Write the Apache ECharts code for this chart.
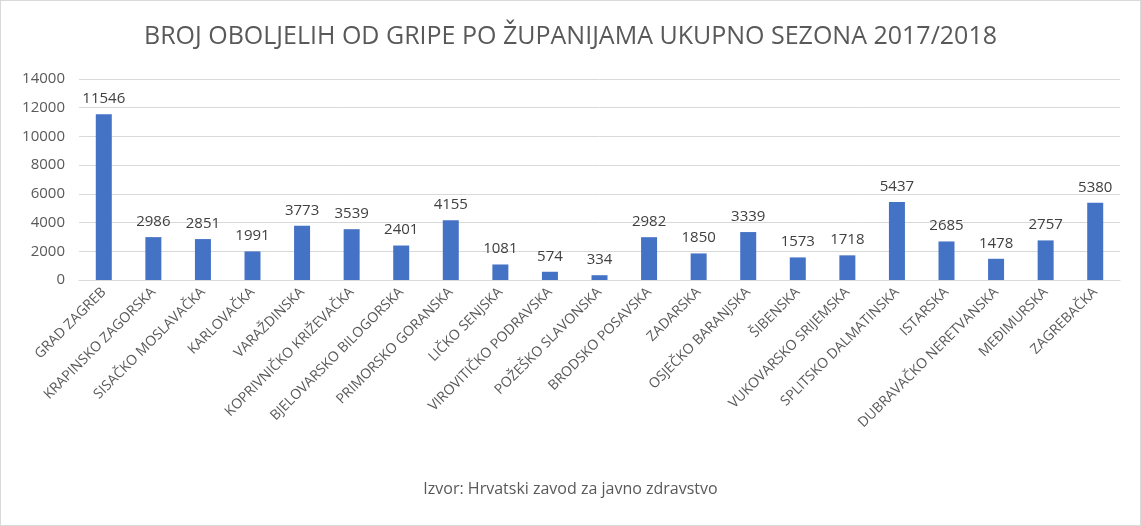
<!DOCTYPE html>
<html>
<head>
<meta charset="utf-8">
<script src="https://cdn.jsdelivr.net/npm/echarts@6/dist/echarts.min.js"></script>
<style>
html,body{margin:0;padding:0;background:#fff;}
#chart{width:1139px;height:524px;border:1px solid #d9d9d9;}
</style>
</head>
<body>
<div id="chart"></div>
<script>
var zupanije = ['GRAD ZAGREB','KRAPINSKO ZAGORSKA','SISAČKO MOSLAVAČKA','KARLOVAČKA','VARAŽDINSKA',
  'KOPRIVNIČKO KRIŽEVAČKA','BJELOVARSKO BILOGORSKA','PRIMORSKO GORANSKA','LIČKO SENJSKA',
  'VIROVITIČKO PODRAVSKA','POŽEŠKO SLAVONSKA','BRODSKO POSAVSKA','ZADARSKA','OSJEČKO BARANJSKA',
  'ŠIBENSKA','VUKOVARSKO SRIJEMSKA','SPLITSKO DALMATINSKA','ISTARSKA','DUBRAVAČKO NERETVANSKA',
  'MEĐIMURSKA','ZAGREBAČKA'];
var oboljeli = [11546,2986,2851,1991,3773,3539,2401,4155,1081,574,334,2982,1850,3339,1573,1718,5437,2685,1478,2757,5380];

var chart = echarts.init(document.getElementById('chart'));
chart.setOption({
  animation: false,
  textStyle: {fontFamily: 'Open Sans'},
  title: {
    text: 'BROJ OBOLJELIH OD GRIPE PO ŽUPANIJAMA UKUPNO SEZONA 2017/2018',
    left: 'center', top: 18,
    textStyle: {fontSize: 25, fontWeight: 'normal', color: '#595959'}
  },
  graphic: [{
    type: 'text', left: 'center', top: 480,
    style: {text: 'Izvor: Hrvatski zavod za javno zdravstvo', fontSize: 16, fill: '#595959', fontFamily: 'Open Sans'}
  }],
  grid: {left: 78, right: 20, top: 78, bottom: 245},
  xAxis: {
    type: 'category', data: zupanije,
    axisTick: {show: false},
    axisLine: {lineStyle: {color: '#d9d9d9'}},
    axisLabel: {rotate: 45, interval: 0, fontSize: 14, color: '#595959', margin: 10}
  },
  yAxis: {
    type: 'value', min: 0, max: 14000, interval: 2000,
    axisLabel: {fontSize: 15, color: '#595959', margin: 14, formatter: function (v) { return String(v); }},
    splitLine: {lineStyle: {color: '#d9d9d9'}}
  },
  series: [{
    type: 'bar', data: oboljeli, barWidth: 16,
    itemStyle: {color: '#4472C4'},
    label: {show: true, position: 'top', fontSize: 15, color: '#404040', distance: 8}
  }]
});
</script>
</body>
</html>
